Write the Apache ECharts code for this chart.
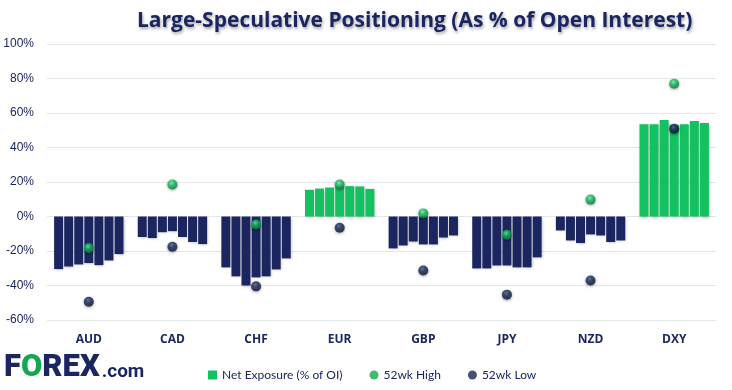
<!DOCTYPE html>
<html><head><meta charset="utf-8">
<script src="https://cdn.jsdelivr.net/npm/echarts@6/dist/echarts.min.js"></script>
<style>html,body{margin:0;padding:0;background:#fff}#c{width:732px;height:390px}</style>
</head><body><div id="c"></div>
<script>
const categories = ['AUD','CAD','CHF','EUR','GBP','JPY','NZD','DXY'];
// Weekly net exposure (% of OI), 7 weeks per currency, oldest to newest
const week1 = [-30.5, -11.9, -29.5, 15.5, -18.5, -30.1,  -8.1, 53.5];
const week2 = [-29.0, -12.5, -34.7, 16.2, -16.8, -30.1, -13.9, 53.5];
const week3 = [-27.8,  -9.1, -40.0, 16.8, -14.5, -28.4, -15.4, 56.0];
const week4 = [-27.0,  -8.5, -35.3, 17.4, -16.2, -28.4, -10.4, 53.2];
const week5 = [-28.2, -11.9, -34.7, 17.6, -16.2, -29.5, -11.0, 53.5];
const week6 = [-25.5, -14.8, -30.7, 17.4, -12.2, -29.5, -14.8, 55.4];
const week7 = [-21.8, -16.0, -24.3, 16.0, -11.0, -23.7, -13.9, 54.2];
const high52 = [-18.3, 18.5, -4.6, 18.5, 1.8, -10.6, 9.8, 77.0];
const low52  = [-49.4, -17.5, -40.5, -6.5, -31.3, -45.3, -37.1, 50.8];
const yTicks = [-60, -40, -20, 0, 20, 40, 60, 80, 100];

const GREEN = '#13c160', NAVY = '#1b2661';
const weeks = [week1, week2, week3, week4, week5, week6, week7];
const chart = echarts.init(document.getElementById('c'));
const barSeries = weeks.map(w => ({
  name: 'Net Exposure (% of OI)', type: 'bar', data: w,
  barGap: '12%', barCategoryGap: '17%',
  itemStyle: {
    color: p => p.value >= 0 ? GREEN : NAVY,
    shadowBlur: 3, shadowColor: 'rgba(0,0,0,0.25)', shadowOffsetX: 1, shadowOffsetY: 1
  }
}));
const ball = (c0, c1, c2) => ({type: 'radial', x: 0.42, y: 0.35, r: 0.7,
  colorStops: [{offset: 0, color: c0}, {offset: 0.35, color: c1}, {offset: 1, color: c2}]});
chart.setOption({
  animation: false,
  title: {text: 'Large-Speculative Positioning (As % of Open Interest)', left: 132, top: 6,
    textStyle: {fontFamily: 'Open Sans', fontWeight: 'bold', fontSize: 21, color: '#1b2661',
      textShadowColor: 'rgba(0,0,0,0.35)', textShadowBlur: 3, textShadowOffsetX: 1, textShadowOffsetY: 2}},
  grid: {left: 47, right: 16, top: 44, bottom: 70, containLabel: false},
  legend: {
    left: 203, top: 364, itemGap: 27, itemWidth: 9, itemHeight: 9,
    textStyle: {fontFamily: 'Lato', fontSize: 12, color: '#1b2661'},
    data: [
      {name: 'Net Exposure (% of OI)', icon: 'rect', itemStyle: {color: GREEN}},
      {name: '52wk High', icon: 'circle', itemStyle: {color: '#10a94f'}},
      {name: '52wk Low', icon: 'circle', itemStyle: {color: '#15284d'}}
    ]
  },
  xAxis: {type: 'category', data: categories,
    axisLine: {show: false}, axisTick: {show: false},
    axisLabel: {margin: 14, fontFamily: 'Open Sans', fontWeight: 'bold', fontSize: 12, color: '#1b2661'}},
  yAxis: {type: 'value', min: yTicks[0], max: yTicks[yTicks.length - 1], interval: 20,
    axisLabel: {formatter: '{value}%', fontFamily: 'Liberation Sans', fontSize: 12, color: '#1b2661', margin: 13},
    splitLine: {lineStyle: {color: '#e1e7e7'}}},
  series: barSeries.concat([
    {name: '52wk High', type: 'scatter', data: high52, symbolSize: 10, z: 5,
      itemStyle: {color: ball('#8ff5bd', '#16c463', '#087536'), shadowBlur: 3, shadowColor: 'rgba(0,0,0,0.45)', shadowOffsetY: 1}},
    {name: '52wk Low', type: 'scatter', data: low52, symbolSize: 10, z: 5,
      itemStyle: {color: ball('#52689a', '#1a2c5a', '#06112a'), shadowBlur: 3, shadowColor: 'rgba(0,0,0,0.45)', shadowOffsetY: 1}}
  ]),
  graphic: [{type: 'text', left: 4, top: 353,
    style: {text: '{f|F}{o|O}{f|REX}{c|.com}',
      rich: {
        f: {fontFamily: 'Roboto', fontWeight: 900, fontSize: 31, fill: '#1b2661'},
        o: {fontFamily: 'Roboto', fontWeight: 900, fontSize: 31, fill: '#13a84f'},
        c: {fontFamily: 'Roboto', fontWeight: 'bold', fontSize: 19, fill: '#1b2661', padding: [8, 0, 0, 2]}
      }}}]
});
</script></body></html>
